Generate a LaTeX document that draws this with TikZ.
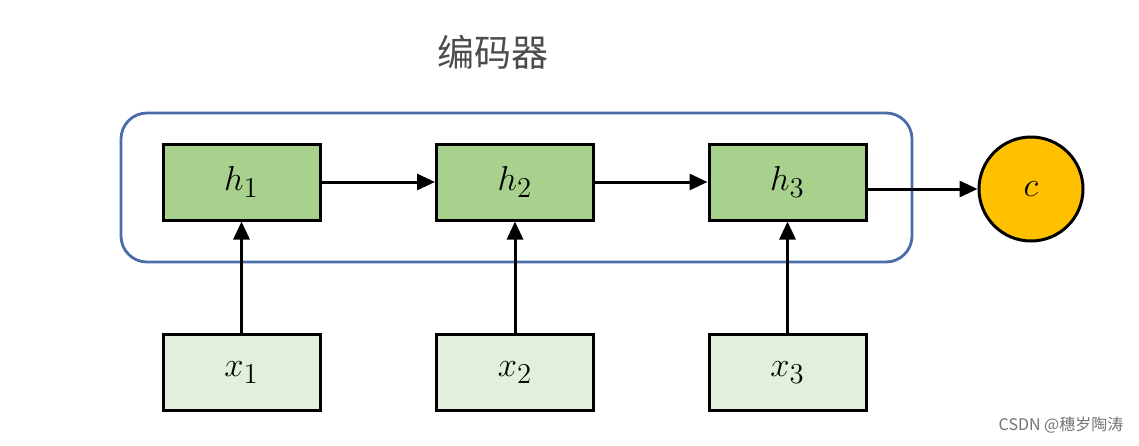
\documentclass[tikz,border=0pt]{standalone}
\usepackage{fontspec}
\newfontfamily\cjk{Noto Sans CJK SC}
\usepackage{tikz}
\usetikzlibrary{arrows.meta,calc}

\definecolor{encblue}{HTML}{4A6CA8}
\definecolor{hgreen}{HTML}{A9D18E}
\definecolor{xgreen}{HTML}{E2EFDA}
\definecolor{corange}{HTML}{FFC000}

\begin{document}
\begin{tikzpicture}
  [
    x=0.5pt, y=-0.5pt,
    hblock/.style =
      {draw, line width=1.5pt, fill=hgreen, minimum width=78.5pt, minimum height=38pt,
       font=\fontsize{19}{22}\selectfont},
    xblock/.style =
      {draw, line width=1.5pt, fill=xgreen, minimum width=78.5pt, minimum height=38pt,
       font=\fontsize{19}{22}\selectfont},
    sarrow/.style =
      {-{Triangle[length=9pt,width=8pt]}, line width=1.5pt}
  ]

\useasboundingbox (0,0) rectangle (1139,445);

\node[draw=encblue, line width=1.4pt, rounded corners=13pt,
      minimum width=395.5pt, minimum height=74.5pt] (enc) at (516.5,187.5) {};
\node[font=\cjk\fontsize{18.5}{22}\selectfont, text=black!70] (title) at (493,52) {编码器};

\node[hblock] (h1) at (241.5,182) {$h_1$};
\node[hblock] (h2) at (515,182) {$h_2$};
\node[hblock] (h3) at (787.5,182) {$h_3$};

\node[xblock] (x1) at (241.5,372.5) {$x_1$};
\node[xblock] (x2) at (515,372.5) {$x_2$};
\node[xblock] (x3) at (787.5,372.5) {$x_3$};

\node[draw, circle, line width=1.5pt, fill=corange, minimum size=52pt,
      font=\fontsize{19}{22}\selectfont] (c) at (1031,189) {$c$};

\draw [sarrow] (h1) -- (h2);
\draw [sarrow] (h2) -- (h3);
\draw [sarrow] (h3.east |- c.west) -- (c.west);

\draw [sarrow] (x1) -- (h1);
\draw [sarrow] (x2) -- (h2);
\draw [sarrow] (x3) -- (h3);

\node[font=\cjk\fontsize{8}{10}\selectfont, text=black!55] (mark) at (1061,425) {CSDN @穗岁陶涛};
\end{tikzpicture}
\end{document}
